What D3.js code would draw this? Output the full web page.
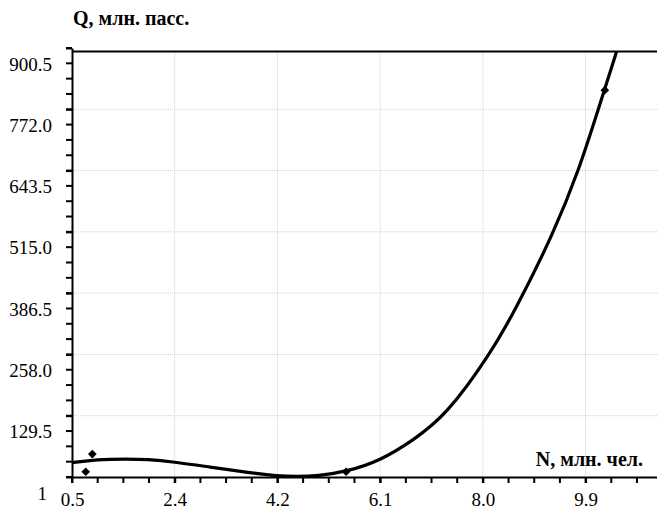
<!DOCTYPE html>
<html>
<head>
<meta charset="utf-8">
<script src="https://cdn.jsdelivr.net/npm/d3@7"></script>
<style>
  body { margin: 0; background: #fff; }
</style>
</head>
<body>
<div id="chart-area"></div>
<script>
// tick values and their printed labels
const xTicks = [0.5, 2.37, 4.24, 6.11, 7.98, 9.85];
const xTickLabels = ["0.5", "2.4", "4.2", "6.1", "8.0", "9.9"];
const yTicks = [1, 129.5, 258.0, 386.5, 515.0, 643.5, 772.0, 900.5];
const yTickLabels = ["1", "129.5", "258.0", "386.5", "515.0", "643.5", "772.0", "900.5"];

// observed points
const pointsN = [0.75, 0.87, 5.49, 10.2];
const pointsQ = [12, 49, 12, 812];

// fitted curve
const curveN = [0.5, 0.95, 1.5, 1.87, 2.34, 3.0, 3.74, 4.23, 4.6, 4.96, 5.49, 6.11, 6.71, 7.31, 8.11, 8.59, 9.27, 9.73, 10.08, 10.42, 10.6];
const curveQ = [31, 38, 39, 38, 33, 22, 10, 3, 2, 3, 12, 35, 78, 130, 258, 355, 513, 645, 772, 894, 965];

const FONT = "'Liberation Serif'";

const svgWidth = 657;
const svgHeight = 509;
const svg = d3.select("#chart-area")
              .append("svg")
              .attr("width", svgWidth)
              .attr("height", svgHeight);

const x = d3.scaleLinear()
            .domain([0.5, 11.15])
            .range([72, 657]);

const y = d3.scaleLinear()
            .domain([1, 900.5])
            .range([477, 48]);

const topLine = y(900.5) + 3.5;
const gridColor = "#cfcfc4";

// grid
svg.append("g")
   .selectAll("line")
   .data(yTicks.slice(1, -1))
   .enter()
   .append("line")
   .attr("x1", x.range()[0])
   .attr("x2", x.range()[1])
   .attr("y1", d => y(d))
   .attr("y2", d => y(d))
   .attr("stroke", gridColor)
   .attr("stroke-dasharray", "1,1");

svg.append("g")
   .selectAll("line")
   .data(xTicks.slice(1))
   .enter()
   .append("line")
   .attr("x1", d => x(d))
   .attr("x2", d => x(d))
   .attr("y1", topLine)
   .attr("y2", y(1))
   .attr("stroke", gridColor)
   .attr("stroke-dasharray", "1,1");

// top frame line
svg.append("line")
   .attr("x1", x.range()[0])
   .attr("x2", x.range()[1])
   .attr("y1", topLine)
   .attr("y2", topLine)
   .attr("stroke", "#000")
   .attr("stroke-width", 2);

// curve, clipped to the plot frame
svg.append("clipPath")
   .attr("id", "plot-clip")
   .append("rect")
   .attr("x", x.range()[0])
   .attr("y", topLine)
   .attr("width", x.range()[1] - x.range()[0])
   .attr("height", y(1) - topLine);

const line = d3.line()
               .x((d, i) => x(curveN[i]))
               .y(d => y(d))
               .curve(d3.curveBasis);

svg.append("path")
   .datum(curveQ)
   .attr("clip-path", "url(#plot-clip)")
   .attr("d", line)
   .attr("fill", "none")
   .attr("stroke", "#000")
   .attr("stroke-width", 3.2)
   .attr("stroke-linejoin", "round");

// points
svg.selectAll(".pt")
   .data(pointsQ)
   .enter()
   .append("path")
   .attr("class", "pt")
   .attr("d", d3.symbol().type(d3.symbolSquare).size(38))
   .attr("transform", (d, i) => `translate(${x(pointsN[i])},${y(d)}) rotate(45)`)
   .attr("fill", "#000");

// minor ticks
const xMinor = d3.range(0.5, 11.15, 1.87 / 4);
const yMinor = d3.range(1, 901, 128.5 / 4);

svg.append("g")
   .selectAll("line")
   .data(xMinor)
   .enter()
   .append("line")
   .attr("x1", d => x(d))
   .attr("x2", d => x(d))
   .attr("y1", y(1))
   .attr("y2", y(1) + 6)
   .attr("stroke", "#000")
   .attr("stroke-width", 2);

svg.append("g")
   .selectAll("line")
   .data(yMinor)
   .enter()
   .append("line")
   .attr("x1", x(0.5) - 6)
   .attr("x2", x(0.5))
   .attr("y1", d => y(d))
   .attr("y2", d => y(d))
   .attr("stroke", "#000")
   .attr("stroke-width", 2);

// axes
const xAxis = d3.axisBottom(x)
                .tickValues(xTicks)
                .tickFormat((d, i) => xTickLabels[i])
                .tickSize(6)
                .tickSizeOuter(0)
                .tickPadding(10);

const gx = svg.append("g")
              .attr("transform", `translate(0,${y(1)})`)
              .call(xAxis)
              .attr("font-family", FONT);
gx.select(".domain").attr("stroke-width", 2);
gx.selectAll(".tick line").attr("stroke-width", 2);
gx.selectAll("text").style("font-size", "19px").style("font-family", FONT);

const yAxis = d3.axisLeft(y)
                .tickValues(yTicks)
                .tickFormat((d, i) => yTickLabels[i])
                .tickSize(6)
                .tickSizeOuter(0)
                .tickPadding(14);

const gy = svg.append("g")
              .attr("transform", `translate(${x(0.5)},0)`)
              .call(yAxis)
              .attr("font-family", FONT);
gy.select(".domain").attr("stroke-width", 2);
gy.selectAll(".tick line").attr("stroke-width", 2);
gy.selectAll("text")
  .style("font-size", "19px")
  .style("font-family", FONT)
  .attr("y", 16)
  .attr("x", (d, i) => i === 0 ? -25 : -20);

// axis titles
svg.append("text")
   .attr("x", 73)
   .attr("y", 25)
   .style("font-family", FONT)
   .style("font-size", "20px")
   .style("font-weight", "bold")
   .text("Q, млн. пасс.");

svg.append("text")
   .attr("x", 643)
   .attr("y", 466)
   .attr("text-anchor", "end")
   .style("font-family", FONT)
   .style("font-size", "20px")
   .style("font-weight", "bold")
   .text("N, млн. чел.");
</script>
</body>
</html>
